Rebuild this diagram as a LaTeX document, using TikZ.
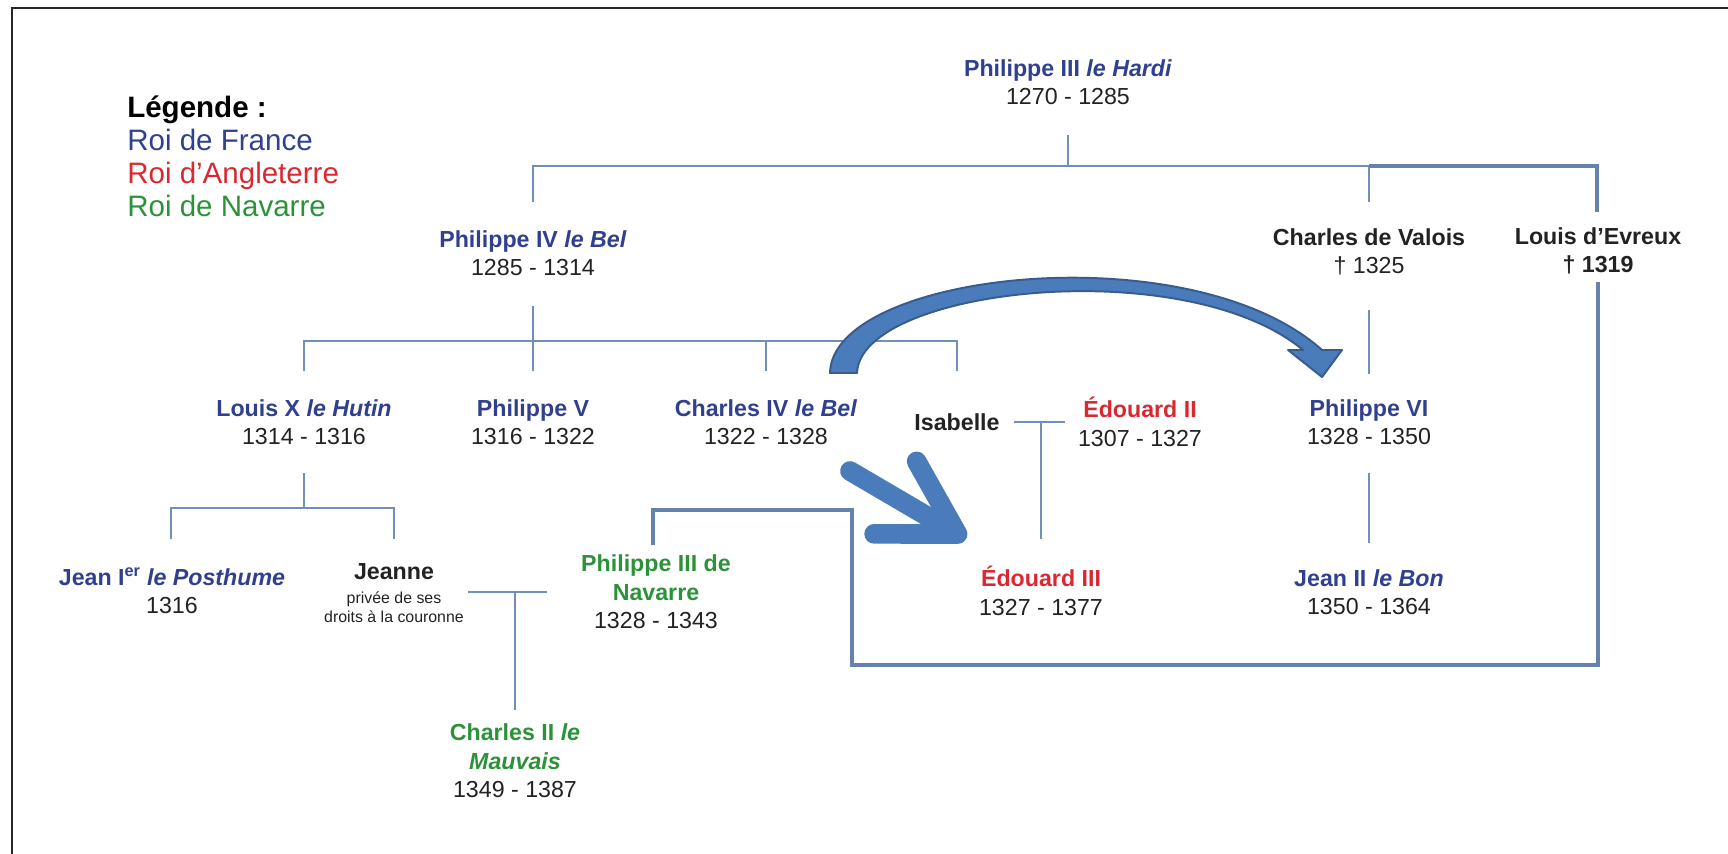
\documentclass[tikz,border=0pt]{standalone}
\usepackage{fontspec}
\setmainfont{Liberation Sans}
\usetikzlibrary{arrows.meta}
\definecolor{frblue}{RGB}{48,64,142}
\definecolor{enred}{RGB}{218,40,48}
\definecolor{navgreen}{RGB}{44,146,58}
\definecolor{datetext}{RGB}{34,34,34}
\definecolor{linkblue}{RGB}{112,144,184}
\definecolor{evreuxblue}{RGB}{100,130,172}
\definecolor{arrowfill}{RGB}{74,124,188}
\definecolor{arrowedge}{RGB}{56,92,142}

\newcommand{\kname}[2]{{\color{#1}\bfseries #2}}

\tikzset{
  person/.style={align=center, inner sep=0pt, text=datetext,
    font=\fontsize{16.5}{20.2}\selectfont},
  note/.style={align=center, inner sep=0pt, text=datetext,
    font=\fontsize{11.3}{13.3}\selectfont},
  legend/.style={anchor=base west, inner sep=0pt,
    font=\fontsize{21}{24}\selectfont},
  link/.style={draw=linkblue, line width=1.5pt},
  evreux/.style={draw=evreuxblue, line width=2.4pt},
  arcarrow/.style={fill=arrowfill, draw=arrowedge, line width=1.4pt, line join=round},
  bigarrow/.style={draw=arrowfill, line width=14pt, line cap=round,
    -{Straight Barb[length=1.8cm, width=2.1cm, round]}}
}

\begin{document}
\begin{tikzpicture}[x=0.025cm, y=-0.025cm]
  \useasboundingbox (0,0) rectangle (1728,854);
  % the frame
  \draw[line width=1.4pt, black!85] (1728,8) -- (12,8) -- (12,854);

  % the legend
  \node[legend] (leg0) at (127,117) {\textbf{Légende :}};
  \foreach \txt/\col [count=\i] in {Roi de France/frblue, Roi d’Angleterre/enred, Roi de Navarre/navgreen}
    \node[legend, text=\col] (leg\i) at (127,117+33.3*\i) {\txt};

  % the people
  \node[person] (p3) at (1068,82) {\kname{frblue}{Philippe III \textit{le Hardi}}\\1270 - 1285};
  \node[person] (p4) at (533,253) {\kname{frblue}{Philippe IV \textit{le Bel}}\\1285 - 1314};
  \node[person] (cv) at (1369,252) {\kname{datetext}{Charles de Valois}\\† 1325};
  \node[person] (le) at (1598,251) {\kname{datetext}{Louis d’Evreux}\\\textbf{† 1319}};
  \node[person] (lx) at (304,422) {\kname{frblue}{Louis X \textit{le Hutin}}\\1314 - 1316};
  \node[person] (p5) at (533,422) {\kname{frblue}{Philippe V}\\1316 - 1322};
  \node[person] (c4) at (766,422) {\kname{frblue}{Charles IV \textit{le Bel}}\\1322 - 1328};
  \node[person] (isa) at (957,422) {\kname{datetext}{Isabelle}};
  \node[person] (e2) at (1140,422) {\kname{enred}{Édouard II}\\1307 - 1327};
  \node[person] (p6) at (1369,422) {\kname{frblue}{Philippe VI}\\1328 - 1350};
  \node[person] (j1) at (172,591) {\kname{frblue}{Jean I\textsuperscript{er} \textit{le Posthume}}\\1316};
  \node[person] (jeanne) at (394,572) {\kname{datetext}{Jeanne}};
  \node[note] (jnote) at (394,607) {privée de ses\\droits à la couronne};
  \node[person] (pn) at (656,592) {\kname{navgreen}{Philippe III de}\\\kname{navgreen}{Navarre}\\1328 - 1343};
  \node[person] (e3) at (1041,591) {\kname{enred}{Édouard III}\\1327 - 1377};
  \node[person] (j2) at (1369,592) {\kname{frblue}{Jean II \textit{le Bon}}\\1350 - 1364};
  \node[person] (cb) at (515,761) {\kname{navgreen}{Charles II \textit{le}}\\\kname{navgreen}{\textit{Mauvais}}\\1349 - 1387};

  % junctions of the tree
  \coordinate (t1) at (1068,135); \coordinate (t2) at (1068,166);
  \coordinate (t3) at (533,202);  \coordinate (t4) at (1369,202);
  \coordinate (f1) at (533,306);  \coordinate (f0) at (533,341);
  \coordinate (f2) at (533,371);  \coordinate (f3) at (304,371);
  \coordinate (f4) at (957,371);  \coordinate (f5) at (766,371);
  \coordinate (g1) at (1369,310); \coordinate (g2) at (1369,374);
  \coordinate (h1) at (1014,422); \coordinate (h2) at (1065,422);
  \coordinate (h3) at (1041,539);
  \coordinate (k1) at (1369,473); \coordinate (k2) at (1369,543);
  \coordinate (m1) at (304,473);  \coordinate (m0) at (304,508);
  \coordinate (m2) at (171,539);  \coordinate (m3) at (394,539);
  \coordinate (n1) at (468,592);  \coordinate (n2) at (547,592);
  \coordinate (n3) at (515,710);
  \coordinate (e1) at (1597,212); \coordinate (e2) at (1598,282);
  \coordinate (e3) at (852,665);  \coordinate (e5) at (653,510);
  \coordinate (e4) at (653,545);

  % the lines
  \draw[link] (t1) -- (t2);
  \draw[link] (t3) |- (t2) -| (t4);
  \draw[link] (f1) -- (f2);
  \draw[link] (f3) |- (f0) -| (f4);
  \draw[link] (f5 |- f0) -- (f5);
  \draw[link] (g1) -- (g2);
  \draw[link] (h1) -- (h2);
  \draw[link] (h1 -| h3) -- (h3);
  \draw[link] (k1) -- (k2);
  \draw[link] (m1) -- (m0);
  \draw[link] (m2) |- (m0) -| (m3);
  \draw[link] (n1) -- (n2);
  \draw[link] (n1 -| n3) -- (n3);
  % Louis d'Evreux and his son
  \draw[evreux] (t4 |- t2) -| (e1);
  \draw[evreux] (e2) |- (e3) |- (e5) -- (e4);

  % the arrows
  \filldraw[arcarrow] (830,373) .. controls (832,272) and (1190,232) .. (1322,350)
    -- (1342,350) -- (1322,377) -- (1288,350) -- (1303,350)
    .. controls (1185,252) and (860,288) .. (857,373) -- cycle;
  \coordinate (sa1) at (850,471);
  \coordinate (sa2) at (966,539);
  \draw[bigarrow] (sa1) -- (sa2);
\end{tikzpicture}
\end{document}
